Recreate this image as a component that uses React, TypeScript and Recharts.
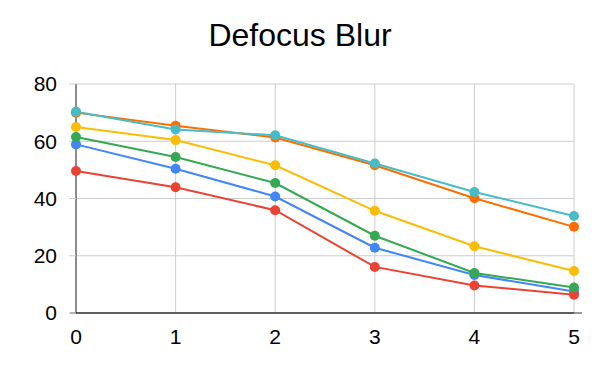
import { LineChart, Line, XAxis, YAxis, CartesianGrid, ReferenceLine } from "recharts";

const xValues = [0, 1, 2, 3, 4, 5];
const yTicks = [0, 20, 40, 60, 80];

const blue = [58.9, 50.4, 40.7, 22.8, 13.3, 7.5];
const red = [49.6, 43.9, 35.9, 16.1, 9.6, 6.4];
const yellow = [65.0, 60.4, 51.6, 35.7, 23.3, 14.7];
const green = [61.5, 54.5, 45.4, 27.0, 14.0, 8.9];
const orange = [70.0, 65.4, 61.3, 51.6, 40.1, 30.1];
const teal = [70.3, 64.1, 62.1, 52.2, 42.3, 33.9];

const series = [
  { key: "s1", values: blue, color: "#4285F4" },
  { key: "s2", values: red, color: "#EA4335" },
  { key: "s3", values: yellow, color: "#FBBC04" },
  { key: "s4", values: green, color: "#34A853" },
  { key: "s5", values: orange, color: "#FF6D01" },
  { key: "s6", values: teal, color: "#46BDC6" },
];

const data = xValues.map((x, i) => {
  const row: Record<string, number> = { x };
  series.forEach((s) => (row[s.key] = s.values[i]));
  return row;
});

const font = "Arial, 'Liberation Sans', sans-serif";

export default function App() {
  return (
    <div style={{ position: "absolute", left: 0, top: 0, width: 600, height: 371, background: "#fff" }}>
      <div
        style={{
          position: "absolute",
          left: 0,
          top: 15,
          width: 600,
          textAlign: "center",
          fontFamily: font,
          fontSize: 32,
          lineHeight: "40px",
          color: "#000",
        }}
      >
        Defocus Blur
      </div>
      <LineChart width={600} height={371} data={data} margin={{ top: 84, right: 26, bottom: 0, left: 0 }}>
        <CartesianGrid stroke="#cccccc" />
        <XAxis
          dataKey="x"
          type="number"
          domain={[0, 5]}
          ticks={xValues}
          height={58}
          tickSize={0}
          tickMargin={16}
          axisLine={{ stroke: "#333333" }}
          tick={{ fill: "#000", fontSize: 21, fontFamily: font }}
        />
        <YAxis
          type="number"
          domain={[0, 80]}
          ticks={yTicks}
          width={76}
          tickSize={7}
          tickMargin={12}
          axisLine={{ stroke: "#333333" }}
          tickLine={{ stroke: "#cccccc" }}
          tick={{ fill: "#000", fontSize: 21, fontFamily: font }}
        />
        <ReferenceLine
          segment={[{ x: -0.06, y: 0 }, { x: 5.08, y: 0 }]}
          stroke="#333333"
          ifOverflow="visible"
        />
        {series.map((s) => (
          <Line
            key={s.key}
            dataKey={s.key}
            stroke={s.color}
            strokeWidth={2}
            dot={{ r: 5, fill: s.color, stroke: s.color, strokeWidth: 0 }}
            isAnimationActive={false}
          />
        ))}
      </LineChart>
    </div>
  );
}
